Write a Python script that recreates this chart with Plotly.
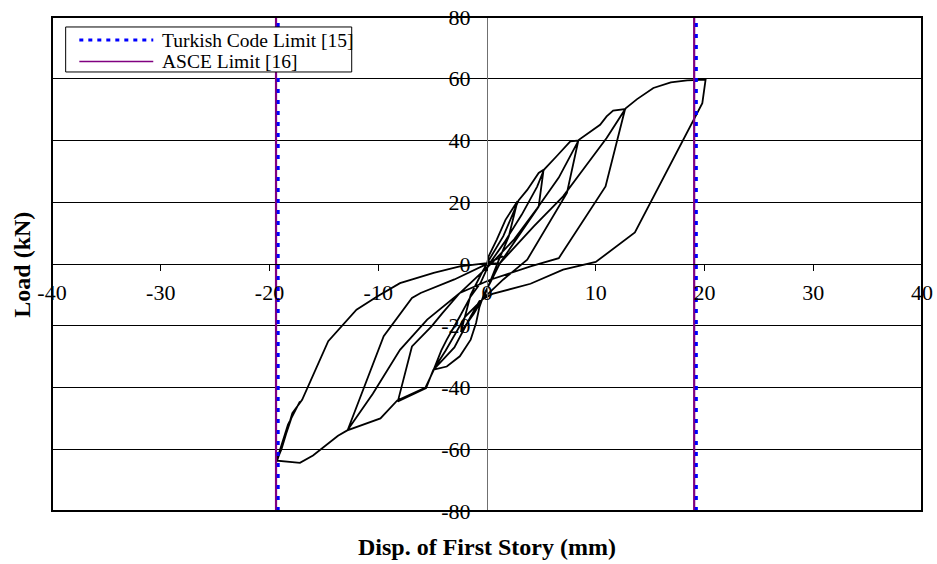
import plotly.graph_objects as go

# Load-displacement record of the first storey (mm, kN), traced cycle by cycle
disp_mm = [
    # cycle 1
    0.0, 0.15, 0.9, 1.7, 2.8,
    2.0, 1.1, 0.4, -0.2, -1.2, -2.4,
    -1.5, -0.5, 0.3, 1.5, 2.9, 3.7, 4.75, 5.2,
    # cycle 2
    4.75, 1.2, 0.3, -0.3, -0.7, -1.0, -1.5, -2.5, -3.7, -4.9,
    -4.2, -3.7, -2.5, -1.5, -0.6, 0.2, 1.6, 3.2, 4.6, 5.25, 6.4, 7.66, 8.4,
    # cycle 3
    7.35, 3.7, 1.5, 0.0, -2.0, -3.8, -4.95, -5.6, -8.2,
    -6.9, -5.1, -4.1, -2.5, 0.5, 2.5, 4.6, 6.6, 8.45, 9.5, 10.4, 11.0, 11.6, 12.7,
    # cycle 4
    10.9, 6.6, 4.0, 0.3, -2.5, -5.5, -8.0, -10.5, -12.8,
    -9.5, -6.9, -6.1, -3.0, 0.0, 1.2, 4.3, 7.0, 8.6, 11.0, 12.75, 13.8, 15.3, 16.9, 18.4, 20.1,
    # cycle 5
    19.8, 13.6, 10.0, 7.0, 4.0, 2.0, 0.5, -0.7, -1.5, -3.0, -4.85, -5.65, -8.25,
    -9.8, -11.8, -12.85, -13.7, -16.0, -17.2, -19.3,
    -18.0, -17.2, -18.3, -19.4,
    -18.9, -17.9, -17.0, -14.6, -12.0, -10.1, -8.0, -4.9, -2.5, 0.0, 1.5,
]
load_kN = [
    # cycle 1
    0.0, 2.5, 7.9, 14.3, 20.3,
    8.9, 1.4, -5.0, -10.0, -16.0, -22.0,
    -10.0, -3.0, 2.0, 9.0, 20.6, 24.0, 29.5, 30.5,
    # cycle 2
    18.6, 0.3, -6.0, -10.0, -14.0, -19.0, -24.5, -29.9, -33.2, -34.2,
    -28.0, -24.5, -17.0, -10.5, -6.2, 0.0, 7.0, 16.0, 25.0, 30.6, 34.9, 39.7, 40.0,
    # cycle 3
    23.0, 1.4, -5.0, -10.0, -17.0, -28.0, -34.4, -40.2, -44.5,
    -26.7, -20.2, -15.9, -9.4, 0.5, 8.0, 18.0, 28.0, 40.2, 43.0, 45.1, 47.8, 49.7, 50.2,
    # cycle 4
    25.1, 1.9, -0.8, -5.1, -9.4, -18.0, -27.8, -42.0, -53.7,
    -23.4, -11.0, -9.4, -5.0, 0.0, 0.3, 12.2, 21.9, 29.5, 40.8, 50.4, 53.4, 57.0, 58.8, 59.5, 59.7,
    # cycle 5
    52.1, 10.2, 0.65, -1.8, -6.4, -8.3, -9.7, -12.0, -17.0, -27.0, -34.0, -40.0, -44.2,
    -50.0, -52.4, -53.9, -55.6, -62.0, -64.4, -63.7,
    -50.0, -44.5, -52.0, -64.3,
    -60.0, -48.3, -44.0, -25.0, -14.8, -10.5, -6.2, -2.9, -0.8, 0.3, 2.5,
]

# Drift limits (mm)
turkish_limit_mm = [-19.2, 19.25]
asce_limit_mm = [-19.4, 19.05]
limit_span_kN = [-80, 80]

x_ticks = [-40, -30, -20, -10, 0, 10, 20, 30, 40]
x_tick_text = ["-40", "-30", "-20", "-10", "0", "10", "20", "30", "40"]
y_ticks = [-80, -60, -40, -20, 0, 20, 40, 60, 80]
y_tick_text = ["-80", "-60", "-40", "-20", "0", "20", "40", "60", "80"]

SERIF = "Liberation Serif, Times New Roman, serif"
BLUE = "#0000FF"
PURPLE = "#800080"

fig = go.Figure()

fig.add_trace(go.Scatter(
    x=disp_mm, y=load_kN, mode="lines",
    line=dict(color="black", width=1.8),
    showlegend=False, hoverinfo="skip",
))

for xv in asce_limit_mm:
    fig.add_trace(go.Scatter(
        x=[xv, xv], y=limit_span_kN, mode="lines",
        line=dict(color=PURPLE, width=2.2),
        showlegend=False, hoverinfo="skip",
    ))
for xv in turkish_limit_mm:
    fig.add_trace(go.Scatter(
        x=[xv, xv], y=limit_span_kN, mode="lines",
        line=dict(color=BLUE, width=3, dash="4px,7px"),
        showlegend=False, hoverinfo="skip",
    ))

fig.update_layout(
    width=937, height=564,
    margin=dict(l=52, r=15, t=17, b=53, autoexpand=False),
    paper_bgcolor="white", plot_bgcolor="white",
    font=dict(family=SERIF, color="black"),
    showlegend=False,
    xaxis=dict(
        range=[-40, 40], tickvals=x_ticks, ticktext=x_tick_text,
        anchor="free", position=0.5, automargin=False,
        showline=True, linecolor="black", linewidth=1,
        ticks="outside", ticklen=6, tickcolor="black", tickwidth=1,
        ticklabelstandoff=3,
        tickfont=dict(family=SERIF, size=22, color="black"),
        showgrid=False, zeroline=False,
    ),
    yaxis=dict(
        range=[-80, 80], tickvals=y_ticks, ticktext=y_tick_text,
        anchor="free", position=0.5, automargin=False,
        showline=True, linecolor="#707070", linewidth=1,
        ticks="", ticklabelstandoff=12,
        tickfont=dict(family=SERIF, size=22, color="black"),
        showgrid=True, gridcolor="black", gridwidth=1,
        zeroline=False,
    ),
    shapes=[
        # plot frame
        dict(type="rect", xref="paper", yref="paper", x0=0, x1=1, y0=0, y1=1,
             line=dict(color="black", width=2), layer="above"),
        # legend box
        dict(type="rect", xref="paper", yref="paper",
             x0=0.0157, x1=0.3445, y0=0.8887, y1=0.9798,
             line=dict(color="black", width=1), fillcolor="white", layer="above"),
        dict(type="line", xref="paper", yref="paper",
             x0=0.0314, x1=0.1164, y0=0.9534, y1=0.9534,
             line=dict(color=BLUE, width=3, dash="4px,5px"), layer="above"),
        dict(type="line", xref="paper", yref="paper",
             x0=0.0314, x1=0.1164, y0=0.9100, y1=0.9100,
             line=dict(color=PURPLE, width=1.5), layer="above"),
    ],
    annotations=[
        dict(text="Turkish Code Limit [15]", xref="paper", yref="paper",
             x=0.124, y=0.9534, xanchor="left", yanchor="middle", showarrow=False,
             font=dict(family=SERIF, size=19.5, color="black")),
        dict(text="ASCE Limit [16]", xref="paper", yref="paper",
             x=0.124, y=0.9100, xanchor="left", yanchor="middle", showarrow=False,
             font=dict(family=SERIF, size=19.5, color="black")),
        dict(text="<b>Disp. of First Story (mm)</b>", xref="paper", yref="paper",
             x=0.5, y=-0.072, xanchor="center", yanchor="middle", showarrow=False,
             font=dict(family=SERIF, size=24, color="black")),
        dict(text="<b>Load (kN)</b>", xref="paper", yref="paper",
             x=-0.0345, y=0.4986, xanchor="center", yanchor="middle", showarrow=False,
             textangle=-90, font=dict(family=SERIF, size=24, color="black")),
    ],
)

fig.write_html("out.html")
